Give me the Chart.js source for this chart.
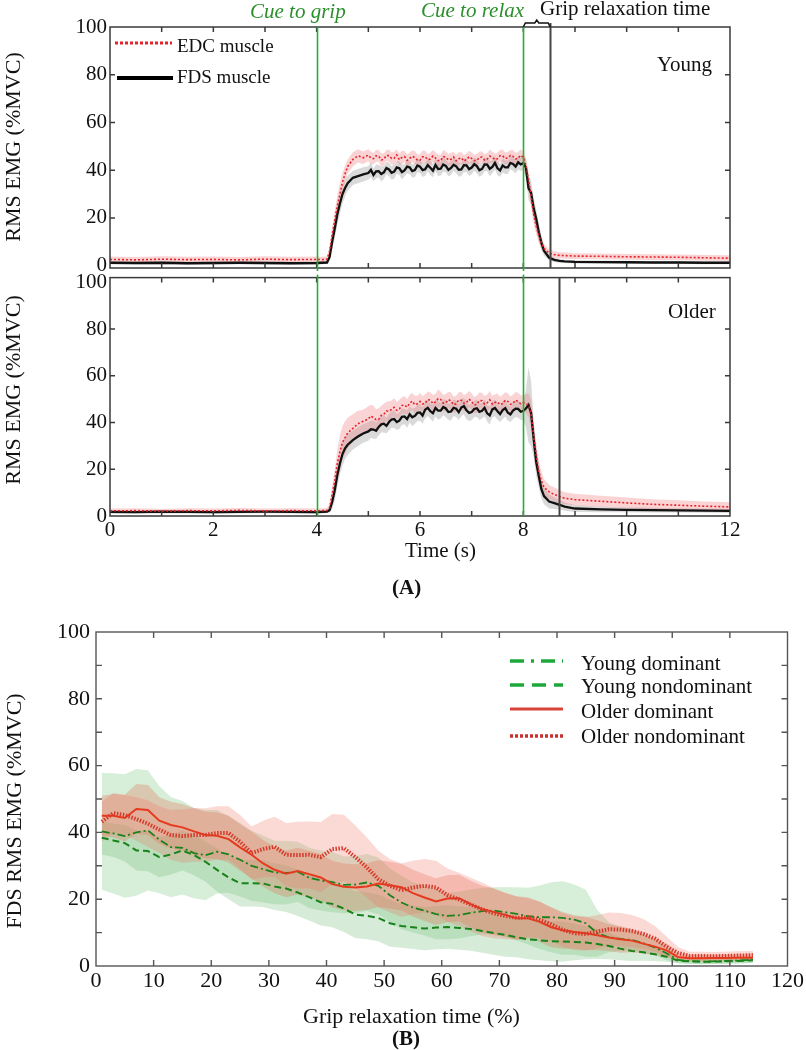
<!DOCTYPE html>
<html>
<head>
<meta charset="utf-8">
<script src="https://cdn.jsdelivr.net/npm/chart.js@4.4.1/dist/chart.umd.min.js"></script>
<style>
  body { margin: 0; width: 806px; height: 1050px; background: #fff; position: relative; overflow: hidden;
         font-family: 'Liberation Serif', 'DejaVu Serif', serif; color: #111; }
  canvas { position: absolute; left: 0; }
  .t { position: absolute; white-space: nowrap; line-height: 1; }
  .rt { position: absolute; white-space: nowrap; line-height: 1; font-size: 22px;
        transform: translate(-50%, -50%) rotate(-90deg); }
  .cue { color: #2a8f2a; font-style: italic; font-size: 21px; }
</style>
</head>
<body>
<canvas id="young" width="806" height="285" style="top:0"></canvas>
<canvas id="older" width="806" height="300" style="top:262px"></canvas>
<canvas id="panelB" width="806" height="450" style="top:600px"></canvas>

<svg width="806" height="1050" style="position:absolute;left:0;top:0;pointer-events:none">
  <line x1="115" y1="43" x2="172" y2="43" stroke="#e4242b" stroke-width="3" stroke-dasharray="3 2"/>
  <line x1="117" y1="78" x2="173" y2="78" stroke="#000" stroke-width="4"/>
  <line x1="510" y1="661" x2="563" y2="661" stroke="#1ea83c" stroke-width="3.5" stroke-dasharray="14 7 3 7"/>
  <line x1="510" y1="685" x2="563" y2="685" stroke="#1ea83c" stroke-width="3.5" stroke-dasharray="14 8"/>
  <line x1="510" y1="709" x2="563" y2="709" stroke="#d9443a" stroke-width="3"/>
  <line x1="510" y1="736" x2="563" y2="736" stroke="#c9302c" stroke-width="3.5" stroke-dasharray="3 2"/>
</svg>

<div class="t cue" style="left:250px;top:1px">Cue to grip</div>
<div class="t cue" style="left:421px;top:0px">Cue to relax</div>
<div class="t" style="left:540px;top:-2px;font-size:21px">Grip relaxation time</div>
<div class="t" style="left:177px;top:36px;font-size:19px">EDC muscle</div>
<div class="t" style="left:177px;top:67px;font-size:19px">FDS muscle</div>
<div class="t" style="left:657px;top:54px;font-size:21px">Young</div>
<div class="t" style="left:668px;top:301px;font-size:21px">Older</div>
<div class="t" style="left:405px;top:540px;font-size:21px">Time (s)</div>
<div class="t" style="left:392px;top:577px;font-size:21px;font-weight:bold">(A)</div>
<div class="rt" style="left:13px;top:147px">RMS EMG (%MVC)</div>
<div class="rt" style="left:13px;top:390px">RMS EMG (%MVC)</div>

<div class="t" style="left:581px;top:653px;font-size:21px">Young dominant</div>
<div class="t" style="left:581px;top:676px;font-size:21px">Young nondominant</div>
<div class="t" style="left:581px;top:701px;font-size:21px">Older dominant</div>
<div class="t" style="left:581px;top:726px;font-size:21px">Older nondominant</div>
<div class="rt" style="left:14px;top:811px">FDS RMS EMG (%MVC)</div>
<div class="t" style="left:303px;top:1005px;font-size:22px">Grip relaxation time (%)</div>
<div class="t" style="left:392px;top:1028px;font-size:21px;font-weight:bold">(B)</div>

<script>
// ---- panel A: time (s) ----
const tA = [0, 0.5, 1, 1.5, 2, 2.5, 3, 3.5, 4, 4.1, 4.2,
  4.25, 4.3, 4.35, 4.4, 4.45, 4.5, 4.55, 4.6, 4.7, 4.8, 4.9,
  5.0, 5.05, 5.1, 5.15, 5.2, 5.25, 5.3, 5.35, 5.4, 5.45, 5.5, 5.55, 5.6, 5.65, 5.7, 5.75, 5.8, 5.85, 5.9, 5.95,
  6.0, 6.05, 6.1, 6.15, 6.2, 6.25, 6.3, 6.35, 6.4, 6.45, 6.5, 6.55, 6.6, 6.65, 6.7, 6.75, 6.8, 6.85, 6.9, 6.95,
  7.0, 7.05, 7.1, 7.15, 7.2, 7.25, 7.3, 7.35, 7.4, 7.45, 7.5, 7.55, 7.6, 7.65, 7.7, 7.75, 7.8, 7.85, 7.9, 7.95,
  8.0, 8.05, 8.1, 8.15, 8.2, 8.25, 8.3, 8.35, 8.4, 8.5, 8.6, 8.7, 8.8, 9.0,
  9.5, 10, 10.5, 11, 11.5, 12];

const youngEdc = [2.6, 2.4, 2.7, 2.5, 2.6, 2.4, 2.7, 2.5, 2.6, 2.5, 2.7,
  6, 13, 19, 25, 30, 35, 38.5, 41.5, 44.5, 46, 45.2,
  46.3, 45.1, 44.8, 46.0, 45.9, 44.3, 44.6, 46.2, 46.1, 44.9, 45.0, 46.4, 44.4, 45.3, 45.7, 44.1, 44.9, 45.8, 45.3, 44.2,
  44.2, 45.6, 45.6, 44.4, 44.7, 45.9, 45.1, 44.0, 44.0, 45.7, 45.4, 44.3, 44.6, 45.5, 43.9, 44.8, 45.2, 43.8, 44.5, 45.6,
  44.9, 44.0, 44.1, 45.3, 45.5, 44.2, 44.6, 45.9, 45.3, 44.5, 44.8, 46.1, 46.0, 44.9, 45.1, 46.2, 45.8, 44.7, 45.0, 46.3,
  45.3, 42, 36, 29, 21.5, 16.5, 12.5, 9.5, 7.2, 5.2, 4.6, 4.3, 4.2, 4.0,
  3.9, 3.7, 3.6, 3.5, 3.3, 3.1];
const youngEdcSd = [1.2, 1.2, 1.2, 1.2, 1.2, 1.2, 1.2, 1.2, 1.2, 1.2, 1.2,
  1.5, 3, 4, 4.5, 4.5, 4, 3.5, 3, 3, 2.8, 2.6,
  2.5, 2.7, 2.3, 2.6, 2.4, 2.8, 2.5, 2.3, 2.6, 2.5, 2.7, 2.4, 2.5, 2.8, 2.3, 2.6, 2.5, 2.4, 2.7, 2.5,
  2.4, 2.6, 2.5, 2.3, 2.7, 2.5, 2.4, 2.6, 2.5, 2.8, 2.4, 2.5, 2.6, 2.3, 2.5, 2.7, 2.4, 2.6, 2.5, 2.5,
  2.5, 2.4, 2.7, 2.5, 2.3, 2.6, 2.5, 2.8, 2.4, 2.5, 2.6, 2.4, 2.7, 2.5, 2.5, 2.3, 2.6, 2.5, 2.7, 2.5,
  2.5, 3, 3.5, 4, 4, 3.5, 3, 2.5, 2, 1.6, 1.4, 1.3, 1.3, 1.2,
  1.2, 1.2, 1.2, 1.2, 1.2, 1.2];
const youngFds = [1.2, 1.1, 1.2, 1.0, 1.1, 1.2, 1.1, 1.0, 1.1, 1.2, 1.3,
  3.5, 10, 15.5, 21.5, 26, 30, 32.5, 34.5, 36.8, 37.5, 38.2,
  38.8, 40.1, 38.0, 39.5, 39.6, 38.4, 39.1, 40.9, 40.3, 38.9, 39.4, 41.2, 40.8, 39.2, 39.9, 41.5, 41.2, 39.6, 40.0, 42.0,
  41.5, 40.0, 40.4, 42.1, 41.0, 39.8, 42.2, 40.5, 40.6, 42.4, 41.8, 40.1, 40.9, 42.3, 41.6, 40.2, 40.3, 42.1, 42.0, 40.4,
  41.1, 42.5, 41.7, 40.0, 40.5, 42.4, 42.3, 40.6, 41.4, 43.1, 40.8, 39.9, 42.0, 41.2, 41.2, 43.0, 42.6, 41.5, 43.3, 42.4,
  43.0, 41.0, 32.5, 30.5, 24, 19.5, 14, 9.5, 6.2, 3.3, 2.4, 2.0, 1.8, 1.6,
  1.5, 1.4, 1.3, 1.3, 1.2, 1.2];
const youngFdsSd = [0.6, 0.6, 0.6, 0.6, 0.6, 0.6, 0.6, 0.6, 0.6, 0.6, 0.6,
  1, 3, 4, 4.5, 4.5, 4, 3.5, 3.2, 3, 3, 3,
  2.8, 3.0, 2.6, 2.9, 2.7, 3.1, 2.8, 2.6, 2.9, 2.8, 3.0, 2.7, 2.8, 3.1, 2.6, 2.9, 2.8, 2.7, 3.0, 2.8,
  2.7, 2.9, 2.8, 2.6, 3.0, 2.8, 2.7, 2.9, 2.8, 3.1, 2.7, 2.8, 2.9, 2.6, 2.8, 3.0, 2.7, 2.9, 2.8, 2.8,
  2.8, 2.7, 3.0, 2.8, 2.6, 2.9, 2.8, 3.1, 2.7, 2.8, 2.9, 2.7, 3.0, 2.8, 2.8, 2.6, 2.9, 2.8, 3.0, 2.8,
  3, 4, 5, 5, 4.5, 4, 3.5, 3, 2, 1.2, 0.9, 0.8, 0.7, 0.7,
  0.6, 0.6, 0.6, 0.6, 0.6, 0.6];

const olderEdc = [2.2, 2.3, 2.1, 2.3, 2.2, 2.4, 2.2, 2.3, 2.2, 2.3, 2.4,
  3.5, 9.5, 15, 22.5, 27.5, 31.5, 33.5, 35.5, 37.5, 39.5, 40.5,
  41.5, 42.8, 42.0, 41.2, 41.3, 43.0, 43.5, 44.9, 44.8, 45.6, 46.5, 45.2, 45.8, 47.3, 47.5, 46.6, 48.2, 49.1, 47.6, 48.0,
  49.0, 47.9, 48.3, 49.8, 49.6, 48.1, 48.8, 50.2, 49.9, 48.3, 48.5, 49.8, 49.2, 47.6, 48.0, 49.6, 49.5, 48.2, 48.6, 50.0,
  48.9, 47.5, 47.8, 49.4, 49.3, 47.9, 48.4, 49.7, 47.9, 48.6, 48.8, 47.6, 48.1, 49.5, 49.0, 47.8, 48.3, 49.6, 48.9, 48.1,
  48.6, 48.0, 47.5, 44, 34, 26, 19, 15, 12.3, 10.3, 9.2, 8.3, 7.6, 7.0,
  6.3, 5.6, 5.0, 4.6, 4.2, 3.9];
const olderEdcSd = [1.0, 1.0, 1.0, 1.0, 1.0, 1.0, 1.0, 1.0, 1.0, 1.0, 1.0,
  1.5, 3, 5, 6, 7, 7, 7, 6.5, 6, 5.5, 5,
  5.5, 4.8, 5.2, 4.5, 4.8, 4.2, 4.5, 4.0, 4.3, 3.8, 4.0, 3.6, 3.9, 3.5, 3.8, 3.4, 3.7, 3.5, 3.8, 3.4,
  3.6, 3.4, 3.8, 3.5, 3.3, 3.7, 3.5, 3.9, 3.4, 3.5, 3.7, 3.4, 3.8, 3.5, 3.5, 3.3, 3.7, 3.5, 3.8, 3.5,
  3.5, 3.4, 3.7, 3.5, 3.3, 3.6, 3.5, 3.9, 3.4, 3.5, 3.6, 3.4, 3.8, 3.5, 3.5, 3.3, 3.7, 3.5, 3.8, 3.5,
  3.5, 4, 5, 6, 6, 5, 4.5, 4, 3.5, 3, 3, 2.8, 2.6, 2.5,
  2.4, 2.3, 2.2, 2.1, 2, 2];
const olderFds = [1.8, 1.7, 1.9, 1.8, 1.7, 1.8, 1.9, 1.8, 1.7, 1.8, 1.9,
  2.5, 6, 11, 17.5, 22.5, 26.5, 29, 30.5, 32.5, 34, 35.3,
  36.2, 37.1, 37.0, 36.5, 38.1, 39.2, 39.5, 38.6, 40.2, 41.3, 41.5, 40.2, 40.8, 42.4, 42.6, 41.5, 43.5, 42.2, 42.8, 44.1,
  44.3, 43.0, 45.5, 46.3, 44.8, 44.0, 46.2, 45.1, 45.1, 46.6, 46.0, 44.5, 44.7, 46.3, 45.9, 44.4, 46.4, 47.0, 45.2, 44.1,
  44.5, 45.8, 46.1, 44.6, 45.0, 46.3, 43.9, 43.0, 45.6, 46.2, 44.8, 43.6, 45.3, 46.1, 44.2, 43.5, 45.1, 45.9, 45.8, 44.6,
  45.0, 46.0, 47.5, 44, 33, 23, 17, 11.5, 8.5, 6.2, 5.5, 4.8, 4.0, 3.2,
  2.8, 2.6, 2.5, 2.4, 2.3, 2.2];
const olderFdsSd = [0.7, 0.7, 0.7, 0.7, 0.7, 0.7, 0.7, 0.7, 0.7, 0.7, 0.7,
  1, 3, 4.5, 5, 5, 5, 4.5, 4.5, 4, 4, 4,
  4.0, 3.6, 3.9, 3.4, 3.7, 3.5, 3.8, 3.3, 3.6, 3.5, 3.8, 3.4, 3.6, 3.5, 3.3, 3.7, 3.5, 3.8, 3.4, 3.5,
  3.6, 3.4, 3.8, 3.5, 3.3, 3.7, 3.5, 3.9, 3.4, 3.5, 3.7, 3.4, 3.8, 3.5, 3.5, 3.3, 3.7, 3.5, 3.8, 3.5,
  3.5, 3.4, 3.7, 3.5, 3.3, 3.6, 3.5, 3.9, 3.4, 3.5, 3.6, 3.4, 3.8, 3.5, 3.5, 3.3, 3.7, 3.5, 3.8, 3.5,
  4, 8, 16, 14, 8, 6, 5, 4, 3.5, 3, 2.5, 2, 1.8, 1.5,
  1.2, 1, 1, 0.9, 0.9, 0.9];

const cueTimes = [4, 8];
const relaxEndYoung = 8.52;
const relaxEndOlder = 8.69;
const yTicksA = [0, 20, 40, 60, 80, 100];

// ---- panel B: grip relaxation time (%) ----
const xB = [1, 3, 5, 7, 9, 11, 13, 15, 17, 19, 21, 23, 25, 27, 29, 31, 33, 35, 37, 39,
  41, 43, 45, 47, 49, 51, 53, 55, 57, 59, 61, 63, 65, 67, 69, 71, 73, 75, 77, 79,
  81, 83, 85, 87, 89, 91, 93, 95, 97, 99, 101, 103, 105, 107, 109, 111, 113, 114];
const youngDom = [40.3, 39.7, 38.9, 40.0, 40.6, 37.8, 35.6, 35.4, 33.8, 33.2,
  34.2, 33.4, 31.8, 30, 29.0, 28.0, 27.9, 28.2, 26.4, 25.6,
  25.1, 24.3, 24.4, 25, 24, 21.2, 19.0, 17.5, 16.6, 15.5,
  15.0, 15.2, 15.9, 16.4, 16.6, 16.1, 15.6, 14.9, 14.6, 14.6,
  14.4, 13.9, 12.8, 9.8, 8.6, 8.1, 7.8, 6.8, 5.6, 3.8,
  1.8, 1.5, 1.3, 1.4, 1.5, 1.6, 1.8, 2.0];
const youngNondom = [38.4, 37.6, 36.8, 34.6, 34.4, 32.6, 33.4, 34.6, 33.2, 31.2,
  28.8, 26.5, 24.8, 24.8, 24.7, 23.8, 23.2, 22.0, 20.6, 19.1,
  18.6, 17.2, 15.4, 15.0, 14.4, 12.8, 12.0, 11.6, 11.2, 11.5,
  11.7, 11.4, 11.1, 10.5, 9.9, 9.3, 8.6, 8.0, 7.7, 7.4,
  7.3, 7.2, 7.0, 6.6, 6.0, 5.2, 4.5, 4.1, 3.5, 2.8,
  1.6, 1.4, 1.3, 1.3, 1.4, 1.5, 1.6, 1.7];
const olderDom = [45, 45, 44.3, 47, 46.7, 43.5, 42.2, 41.5, 40.3, 39.2,
  39, 38, 35.5, 33.3, 30.7, 28.8, 27.6, 28.4, 27.5, 26.5,
  24.5, 23.7, 23.5, 23.8, 24.7, 24.2, 23.6, 21.8, 20.5, 19.3,
  20.2, 20.3, 18.5, 17, 16.2, 15.3, 14.3, 14.3, 13.2, 11.6,
  10.7, 10.2, 9.8, 9.2, 8.5, 8.0, 7.6, 6.7, 5.8, 4.7,
  2.7, 2.3, 2.3, 2.4, 2.4, 2.5, 2.5, 2.5];
const olderNondom = [43.2, 45.8, 45.2, 44, 42.6, 40.8, 39.2, 38.9, 39.2, 39.2,
  39.8, 39.8, 37.2, 33.8, 35.0, 35.7, 33.3, 33.2, 33.3, 32.6,
  35.0, 35.3, 32.6, 29.5, 26, 24, 22.7, 23.5, 24, 23.5,
  21.2, 19.9, 18.4, 17.0, 15.8, 15.0, 14.4, 14.6, 13.8, 12.5,
  10.8, 9.8, 9.6, 10.3, 11, 10.9, 10.5, 9.6, 8.2, 5.8,
  3.9, 3.0, 3.0, 2.9, 3.0, 3.1, 3.2, 3.3];
const youngDomSd = [17.5, 18, 18.5, 19, 18, 16, 15, 14, 13.5, 13.5,
  12.5, 11.5, 11, 10.5, 10, 9.5, 9.5, 9, 9, 9,
  9, 8.5, 8.5, 8.5, 8.5, 8, 8, 7.5, 7.5, 7.5,
  7, 7, 7, 7, 7, 7.5, 8, 8.5, 9.5, 10.5,
  11, 10.5, 10, 7, 4.5, 3.5, 3, 2.8, 2.4, 2,
  1, 0.8, 0.8, 0.8, 0.8, 0.9, 1, 1];
const youngNondomSd = [5, 5, 5.5, 6, 6, 6, 6, 6, 6, 6,
  6.5, 6.5, 7, 7, 7, 7, 7, 7, 7, 7,
  7, 7, 7, 7, 7, 7, 6.5, 6.5, 6.5, 6.5,
  6.5, 6.5, 6.5, 6.5, 6.5, 6.5, 6, 6, 6, 6,
  6, 5.5, 5, 4.5, 4, 3.5, 3, 2.5, 2, 1.5,
  0.8, 0.7, 0.7, 0.7, 0.7, 0.7, 0.7, 0.7];
const olderDomSd = [6, 6.5, 7, 7.5, 7.5, 7, 7, 7, 7, 7,
  7, 7, 7, 7, 7, 7, 7, 7, 7, 7,
  7, 7, 7, 7, 7, 7, 7, 7, 7, 7,
  7, 7, 7, 7, 7, 6.5, 6.5, 6, 6, 6,
  5.5, 5, 5, 4.5, 4, 4, 3.5, 3, 2.5, 2,
  1.2, 1, 1, 1, 1, 1, 1, 1];
const olderNondomSd = [6, 6, 6, 6.5, 7, 7, 7.5, 8, 8, 8,
  8, 8, 8, 8, 8.5, 9, 9.5, 10, 10, 10.5,
  10.5, 10, 9.5, 9, 8.5, 8, 8, 8, 8, 8,
  8, 8, 8, 8, 7.5, 7, 6.5, 6, 5.5, 5,
  5, 5, 5, 5, 5, 5, 4.8, 4.5, 3.8, 3,
  1.8, 1.3, 1.3, 1.3, 1.3, 1.3, 1.3, 1.3];

Chart.defaults.font.family = "'Liberation Serif', 'DejaVu Serif', serif";
Chart.defaults.color = '#111';
Chart.defaults.animation = false;

const pts = (xs, ys) => xs.map((x, i) => ({x, y: ys[i]}));

function line(xs, ys, color, width, dash) {
  return { data: pts(xs, ys), borderColor: color, borderWidth: width, borderDash: dash || [],
           pointRadius: 0, fill: false, tension: 0 };
}
function band(xs, mean, sd, color) {
  return [
    { data: xs.map((x, i) => ({x, y: mean[i] + sd[i]})), borderWidth: 0, pointRadius: 0,
      backgroundColor: color, fill: '+1', tension: 0 },
    { data: xs.map((x, i) => ({x, y: mean[i] - sd[i]})), borderWidth: 0, pointRadius: 0,
      fill: false, tension: 0 }
  ];
}

// box round the plot with short inward ticks on all four sides
const frame = {
  id: 'frame',
  afterDatasetsDraw(chart, args, o) {
    const {ctx, chartArea: a, scales: {x, y}} = chart;
    ctx.save();
    ctx.strokeStyle = o.color;
    ctx.lineWidth = o.width;
    ctx.strokeRect(a.left, a.top, a.right - a.left, a.bottom - a.top);
    ctx.beginPath();
    for (let i = 1; o.xFrom + i * o.xStep < o.xTo; i++) {
      const px = x.getPixelForValue(o.xFrom + i * o.xStep);
      ctx.moveTo(px, a.bottom); ctx.lineTo(px, a.bottom - o.len);
      ctx.moveTo(px, a.top); ctx.lineTo(px, a.top + o.len);
    }
    for (let i = 1; o.yFrom + i * o.yStep < o.yTo; i++) {
      const py = y.getPixelForValue(o.yFrom + i * o.yStep);
      ctx.moveTo(a.left, py); ctx.lineTo(a.left + o.len, py);
      ctx.moveTo(a.right, py); ctx.lineTo(a.right - o.len, py);
    }
    ctx.stroke();
    ctx.restore();
  }
};

// vertical cue lines, relaxation end and the brace above it
const markers = {
  id: 'markers',
  afterDatasetsDraw(chart, args, o) {
    const {ctx, chartArea: a, scales: {x}} = chart;
    ctx.save();
    o.lines.forEach(l => {
      const px = Math.round(x.getPixelForValue(l.t)) + 0.5;
      ctx.strokeStyle = l.color;
      ctx.lineWidth = l.width;
      ctx.beginPath();
      ctx.moveTo(px, a.top - (l.above || 0));
      ctx.lineTo(px, a.bottom + (l.below || 0));
      ctx.stroke();
    });
    if (o.brace) {
      const x0 = x.getPixelForValue(o.brace[0]), x1 = x.getPixelForValue(o.brace[1]);
      const yb = a.top - 4, xm = (x0 + x1) / 2;
      ctx.strokeStyle = '#111';
      ctx.lineWidth = 1.5;
      ctx.beginPath();
      ctx.moveTo(x0, a.top); ctx.lineTo(x0 + 2, yb); ctx.lineTo(xm - 2, yb);
      ctx.lineTo(xm, yb - 3); ctx.lineTo(xm + 2, yb); ctx.lineTo(x1 - 2, yb); ctx.lineTo(x1, a.top);
      ctx.stroke();
    }
    ctx.restore();
  }
};

const tickFontA = { size: 21 };

function panelA(id, edc, edcSd, fds, fdsSd, opts) {
  return new Chart(document.getElementById(id), {
    type: 'line',
    data: {
      datasets: [
        line(tA, edc, '#e4242b', 1.6, [2, 2]),
        line(tA, fds, '#111', 2.3),
        ...band(tA, edc, edcSd, 'rgba(240,120,125,0.32)'),
        ...band(tA, fds, fdsSd, 'rgba(150,150,150,0.35)')
      ]
    },
    options: {
      responsive: false,
      layout: { padding: opts.padding },
      plugins: {
        legend: { display: false }, tooltip: { enabled: false },
        frame: { color: '#3a3a3a', width: 1.5, len: 5, xFrom: 0, xTo: 12, xStep: 1, yFrom: 0, yTo: 100, yStep: 20 },
        markers: opts.markers
      },
      scales: {
        x: {
          type: 'linear', min: 0, max: 12,
          grid: { display: false, drawTicks: false }, border: { display: false },
          ticks: { display: opts.xLabels, stepSize: 2, padding: 2, font: tickFontA },
          afterFit: s => { s.height = opts.xHeight; }
        },
        y: {
          min: opts.yMin, max: opts.yMax,
          grid: { display: false, drawTicks: false }, border: { display: false },
          ticks: { padding: 3, font: tickFontA },
          afterBuildTicks: s => { s.ticks = yTicksA.map(v => ({ value: v })); },
          afterFit: s => { s.width = 110; }
        }
      }
    },
    plugins: [frame, markers]
  });
}

panelA('young', youngEdc, youngEdcSd, youngFds, youngFdsSd, {
  padding: { top: 27, right: 76, bottom: 17, left: 0 },
  xLabels: false, xHeight: 0, yMin: -1, yMax: 100,
  markers: {
    lines: [
      { t: cueTimes[0], color: '#22b030', width: 1.6, below: 3 },
      { t: cueTimes[1], color: '#22b030', width: 1.6, below: 3 },
      { t: relaxEndYoung, color: '#444', width: 2, above: 4 }
    ],
    brace: [cueTimes[1], relaxEndYoung]
  }
});

panelA('older', olderEdc, olderEdcSd, olderFds, olderFdsSd, {
  padding: { top: 9, right: 76, bottom: 0, left: 0 },
  xLabels: true, xHeight: 46, yMin: 0, yMax: 102,
  markers: {
    lines: [
      { t: cueTimes[0], color: '#22b030', width: 1.6, above: 3 },
      { t: cueTimes[1], color: '#22b030', width: 1.6, above: 3 },
      { t: relaxEndOlder, color: '#444', width: 2 }
    ]
  }
});

new Chart(document.getElementById('panelB'), {
  type: 'line',
  data: {
    datasets: [
      line(xB, olderNondom, '#d63a2a', 4, [1.5, 1.5]),
      line(xB, olderDom, '#e63a1e', 2),
      line(xB, youngDom, '#1a821a', 1.8, [8, 3, 2, 3]),
      line(xB, youngNondom, '#1a821a', 2, [7, 4]),
      ...band(xB, olderNondom, olderNondomSd, 'rgba(240,120,105,0.28)'),
      ...band(xB, olderDom, olderDomSd, 'rgba(225,110,80,0.30)'),
      ...band(xB, youngDom, youngDomSd, 'rgba(110,195,120,0.28)'),
      ...band(xB, youngNondom, youngNondomSd, 'rgba(90,175,100,0.25)')
    ]
  },
  options: {
    responsive: false,
    layout: { padding: { top: 32, right: 18, bottom: 0, left: 0 } },
    plugins: {
      legend: { display: false }, tooltip: { enabled: false },
      frame: { color: '#555', width: 1.4, len: 6, xFrom: 0, xTo: 120, xStep: 10, yFrom: 0, yTo: 100, yStep: 10 }
    },
    scales: {
      x: {
        type: 'linear', min: 0, max: 120,
        grid: { display: false, drawTicks: false }, border: { display: false },
        ticks: { stepSize: 10, padding: 2, font: { size: 22 } },
        afterFit: s => { s.height = 84; }
      },
      y: {
        min: 0, max: 100,
        grid: { display: false, drawTicks: false }, border: { display: false },
        ticks: { stepSize: 20, padding: 6, font: { size: 22 } },
        afterFit: s => { s.width = 96; }
      }
    }
  },
  plugins: [frame]
});
</script>
</body>
</html>
